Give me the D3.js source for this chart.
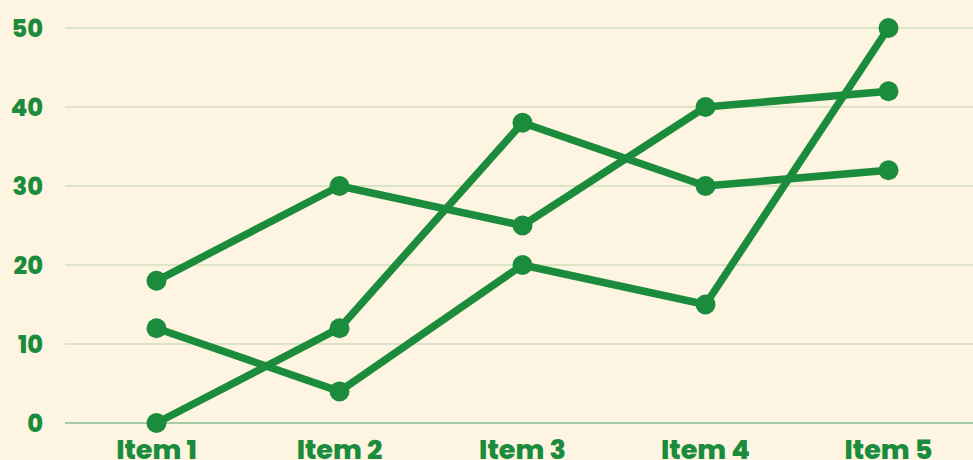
<!DOCTYPE html>
<html lang="en">
<head>
    <meta charset="UTF-8">
    <title>Items</title>
    <script src="https://d3js.org/d3.v7.min.js"></script>
    <style>
        body { margin: 0; background: #fdf4e1; }
        svg text { font-family: "Poppins", "Open Sans", sans-serif; font-weight: 800; fill: #1b8c3b; }
    </style>
</head>
<body>
    <div id="chart"></div>
    <script>
        const categories = ['Item 1', 'Item 2', 'Item 3', 'Item 4', 'Item 5'];
        const seriesA = [18, 30, 25, 40, 42];
        const seriesB = [12, 4, 20, 15, 50];
        const seriesC = [0, 12, 38, 30, 32];
        const yTicks = [0, 10, 20, 30, 40, 50];

        const width = 973, height = 460;
        const green = '#1b8c3b';

        const svg = d3.select('#chart').append('svg')
            .attr('width', width)
            .attr('height', height);

        svg.append('rect').attr('width', width).attr('height', height).attr('fill', '#fdf4e1');

        const x = d3.scalePoint()
            .domain(categories)
            .range([65, 980])
            .padding(0.5);

        const y = d3.scaleLinear()
            .domain([0, 50])
            .range([423, 28]);

        // gridlines
        svg.append('g')
            .selectAll('line')
            .data(yTicks.filter(d => d > 0))
            .join('line')
            .attr('x1', 65)
            .attr('x2', width)
            .attr('y1', d => y(d))
            .attr('y2', d => y(d))
            .attr('stroke', '#cfe0bd')
            .attr('stroke-width', 1.5);

        // baseline
        svg.append('line')
            .attr('x1', 65).attr('x2', width)
            .attr('y1', y(0)).attr('y2', y(0))
            .attr('stroke', '#86c08e')
            .attr('stroke-width', 1.5);

        // y labels
        svg.append('g')
            .selectAll('text')
            .data(yTicks)
            .join('text')
            .attr('x', 43)
            .attr('y', d => y(d))
            .attr('dy', '0.36em')
            .attr('text-anchor', 'end')
            .style('font-size', '24px')
            .text(d => d);

        // x labels
        svg.append('g')
            .selectAll('text')
            .data(categories)
            .join('text')
            .attr('x', d => x(d))
            .attr('y', 459)
            .attr('text-anchor', 'middle')
            .style('font-size', '27px')
            .text(d => d);

        const line = d3.line()
            .x((d, i) => x(categories[i]))
            .y(d => y(d));

        [seriesA, seriesB, seriesC].forEach(s => {
            svg.append('path')
                .datum(s)
                .attr('fill', 'none')
                .attr('stroke', green)
                .attr('stroke-width', 7.5)
                .attr('stroke-linejoin', 'round')
                .attr('d', line);
        });

        [seriesA, seriesB, seriesC].forEach(s => {
            svg.append('g')
                .selectAll('circle')
                .data(s)
                .join('circle')
                .attr('cx', (d, i) => x(categories[i]))
                .attr('cy', d => y(d))
                .attr('r', 10)
                .attr('fill', green);
        });
    </script>
</body>
</html>
